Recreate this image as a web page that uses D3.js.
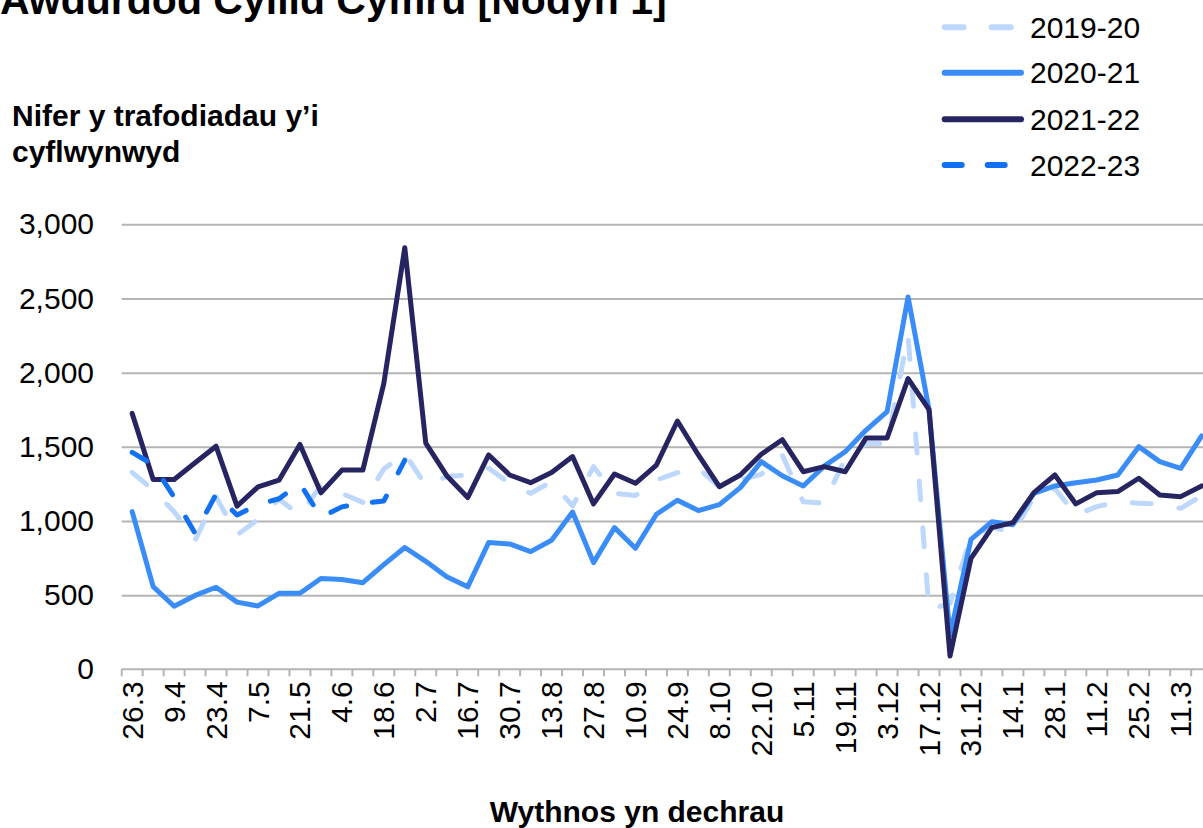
<!DOCTYPE html>
<html><head><meta charset="utf-8">
<script src="https://cdn.jsdelivr.net/npm/d3@7"></script>
<style>
html,body{margin:0;padding:0;background:#fff;}
svg{display:block;font-family:"Liberation Sans",Arial,sans-serif;}
</style></head>
<body><svg id="c" width="1203" height="828"></svg>
<script>
const weeks = ["26.3","2.4","9.4","16.4","23.4","30.4","7.5","14.5","21.5","28.5","4.6","11.6","18.6","25.6","2.7","9.7","16.7","23.7","30.7","6.8","13.8","20.8","27.8","3.9","10.9","17.9","24.9","1.10","8.10","15.10","22.10","29.10","5.11","12.11","19.11","26.11","3.12","10.12","17.12","24.12","31.12","7.1","14.1","21.1","28.1","4.2","11.2","18.2","25.2","4.3","11.3","18.3"];
const s1920 = [1327,1210,1062,871,1163,905,1010,1147,1040,1240,1185,1125,1350,1455,1240,1300,1310,1355,1255,1186,1265,1101,1366,1186,1171,1276,1326,1355,1231,1276,1315,1445,1130,1120,1420,1523,1523,2250,400,445,894,960,920,1160,1220,1040,1097,1130,1119,1115,1085,1170];
const s2021 = [1063,557,425,498,553,453,427,512,513,612,605,584,705,821,728,624,556,855,845,793,870,1060,719,955,816,1045,1140,1070,1110,1225,1400,1305,1236,1370,1467,1613,1737,2510,1750,230,876,995,975,1186,1236,1258,1276,1310,1501,1400,1355,1573];
const s2122 = [1725,1280,1280,1392,1504,1100,1230,1275,1516,1190,1343,1343,1928,2842,1525,1305,1158,1445,1310,1258,1326,1434,1115,1317,1254,1377,1674,1445,1231,1310,1450,1548,1332,1366,1332,1560,1560,1960,1750,90,748,955,989,1191,1310,1115,1191,1198,1288,1175,1164,1236];
const s2223 = [1462,1380,1160,916,1180,1040,1111,1150,1253,1025,1095,1120,1135,1410];
const seriesNames = ["2019-20","2020-21","2021-22","2022-23"];
const yTicks = [0,500,1000,1500,2000,2500,3000];
const title = "Awdurdod Cyllid Cymru [Nodyn 1]";
const yTitle = ["Nifer y trafodiadau y’i","cyflwynwyd"];
const xTitle = "Wythnos yn dechrau";

(function(){
const series = [
  {name:seriesNames[0], values:s1920, color:"#BED8FD", dash:"19,28"},
  {name:seriesNames[1], values:s2021, color:"#3A8DF8", dash:null},
  {name:seriesNames[2], values:s2122, color:"#272462", dash:null},
  {name:seriesNames[3], values:s2223, color:"#1171F2", dash:"17,26"}
];

const svg = d3.select("#c");
const pLeft = 121.7, pTop = 224.3, pBottom = 669.3, step = 20.97;
const pRight = pLeft + step*weeks.length;
const x = d3.scaleBand().domain(weeks).range([pLeft, pRight]).padding(0);
const y = d3.scaleLinear().domain([0,3000]).range([pBottom, pTop]);
const bw = x.bandwidth();

// gridlines
svg.append("g").attr("transform",`translate(${pLeft},0)`)
  .call(d3.axisLeft(y).tickValues(yTicks.slice(1)).tickSize(-(pRight-pLeft)).tickFormat(""))
  .call(g=>g.select(".domain").remove())
  .call(g=>g.selectAll("line").attr("stroke","#B4B4B4").attr("stroke-width",2));

// y labels
svg.append("g").attr("transform",`translate(${pLeft},0)`)
  .call(d3.axisLeft(y).tickValues(yTicks).tickSize(0).tickPadding(pLeft-94).tickFormat(d3.format(",")))
  .call(g=>g.select(".domain").remove())
  .call(g=>g.selectAll("text").attr("font-size",30).attr("fill","#000").attr("font-family","Liberation Sans, Arial, sans-serif"));

// x axis line and boundary ticks
const xa = svg.append("g");
xa.append("line").attr("x1",pLeft).attr("x2",pRight).attr("y1",pBottom).attr("y2",pBottom)
  .attr("stroke","#B4B4B4").attr("stroke-width",2);
xa.selectAll("line.tk").data(d3.range(weeks.length+1)).join("line").attr("class","tk")
  .attr("x1",i=>pLeft+i*bw).attr("x2",i=>pLeft+i*bw).attr("y1",pBottom).attr("y2",pBottom+7)
  .attr("stroke","#B4B4B4").attr("stroke-width",2);

// x labels via axis
svg.append("g").attr("transform",`translate(0,${pBottom})`)
  .call(d3.axisBottom(x).tickSize(0).tickFormat((d,i)=> i%2===0 ? d : ""))
  .call(g=>g.select(".domain").remove())
  .call(g=>g.selectAll("text")
    .attr("font-size",30).attr("fill","#000").attr("font-family","Liberation Sans, Arial, sans-serif")
    .attr("text-anchor","end").attr("dy","0.35em")
    .attr("transform","translate(0,12) rotate(-90)").attr("x",0).attr("y",0));

// lines
const line = d3.line().x((d,i)=>x(weeks[i])+bw/2).y(d=>y(d));
series.forEach(s=>{
  svg.append("path").datum(s.values).attr("d",line)
    .attr("fill","none").attr("stroke",s.color).attr("stroke-width",5)
    .attr("stroke-linejoin","round").attr("stroke-linecap","round")
    .attr("stroke-dasharray", s.dash);
});

// legend
const lg = svg.append("g");
const ly = [27.3,72.7,119.3,165];
series.forEach((s,i)=>{
  lg.append("line").attr("x1",944.7).attr("x2",1021).attr("y1",ly[i]).attr("y2",ly[i])
    .attr("stroke",s.color).attr("stroke-width",6).attr("stroke-linecap","round")
    .attr("stroke-dasharray",s.dash);
  lg.append("text").attr("x",1030).attr("y",ly[i]).attr("dy","0.35em")
    .attr("font-size",30).attr("fill","#000").text(s.name);
});

// titles
svg.append("text").attr("x",0).attr("y",14).attr("font-size",41).attr("font-weight","bold").text(title);
svg.append("text").attr("x",12).attr("y",126).attr("font-size",30).attr("font-weight","bold").text(yTitle[0]);
svg.append("text").attr("x",12).attr("y",162).attr("font-size",30).attr("font-weight","bold").text(yTitle[1]);
svg.append("text").attr("x",637).attr("y",822).attr("text-anchor","middle").attr("font-size",30).attr("font-weight","bold").text(xTitle);
})();
</script></body></html>
